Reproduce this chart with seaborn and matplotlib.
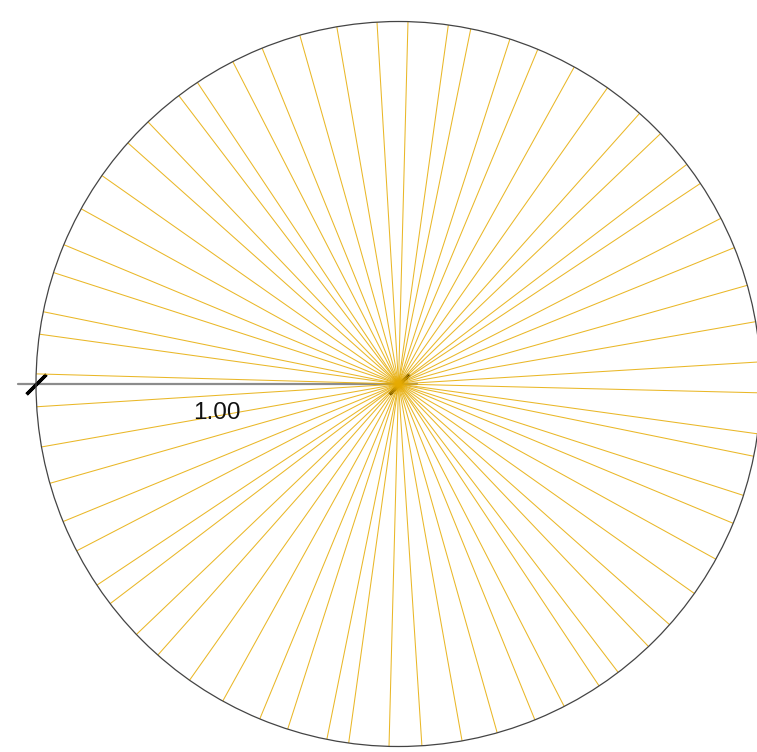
import numpy as np
import pandas as pd
import seaborn as sns
import matplotlib.pyplot as plt

# spoke angles in degrees (one spoke per value, all reach r = 1)
angles_q1 = [3.5, 9.9, 15.8, 22.1, 27.2, 33.6, 37.3, 43.7,
             48.3, 54.8, 61.0, 67.4, 72.1, 78.5, 82.1, 88.5]
angles_q2 = [93.4, 99.8, 105.8, 112.1, 117.2, 123.7, 127.3, 133.7,
             138.3, 144.9, 151.1, 157.4, 162.1, 168.5, 172.1, 178.4]
angles_q3 = [183.6, 190.0, 195.9, 202.3, 207.4, 213.7, 217.3, 223.7,
             228.4, 234.8, 241.0, 247.5, 252.2, 258.6, 262.1, 268.5]
angles_q4 = [273.7, 280.1, 285.8, 292.1, 297.2, 303.6, 307.3, 313.6,
             318.4, 324.7, 331.1, 337.4, 342.1, 348.5, 352.1, 358.6]
spoke_r = 1.0
radial_ticks = [1.0]
radial_labels = ["1.00"]

angles = angles_q1 + angles_q2 + angles_q3 + angles_q4

# each spoke is a line from the centre to r = 1
rows = []
for i, a in enumerate(angles):
    t = np.deg2rad(a)
    rows.append({"spoke": i, "theta": t, "r": 0.0})
    rows.append({"spoke": i, "theta": t, "r": spoke_r})
df = pd.DataFrame(rows)

sns.set_style("white")
plt.rcParams["font.family"] = ["Liberation Sans", "DejaVu Sans"]

fig = plt.figure(figsize=(7.57, 7.52), dpi=100)
ax = fig.add_axes([36 / 757, 5.5 / 752, 725 / 757, 725 / 752], projection="polar")

# radial axis line (drawn to the left, a little past the circle)
ax.plot([-0.025, 0.526], [0.5, 0.5], transform=ax.transAxes, color="#8c8c8c",
        lw=1.6, clip_on=False, zorder=1)
# slanted tick marks at r = 0 and r = 1
ax.plot([np.pi, 0], [radial_ticks[0], 0], ls="none", marker=(2, 2, -45),
        markersize=20, markeredgewidth=2.4, color="black", clip_on=False, zorder=1.5)

sns.lineplot(data=df, x="theta", y="r", units="spoke", estimator=None,
             sort=False, color="#E6AB02", lw=0.75, alpha=0.85, ax=ax, zorder=2,
             legend=False)

ax.set_ylim(0, 1)
ax.set_xticks([])
ax.set_yticks([])
ax.grid(False)
ax.set_xlabel("")
ax.set_ylabel("")
ax.spines["polar"].set_color("#444444")
ax.spines["polar"].set_linewidth(0.9)

ax.annotate(radial_labels[0], xy=(np.pi, 0.5), xytext=(0, -21),
            textcoords="offset points", ha="center", va="center",
            fontsize=17.5, color="#111111")

fig.savefig("out.png", dpi=100)
